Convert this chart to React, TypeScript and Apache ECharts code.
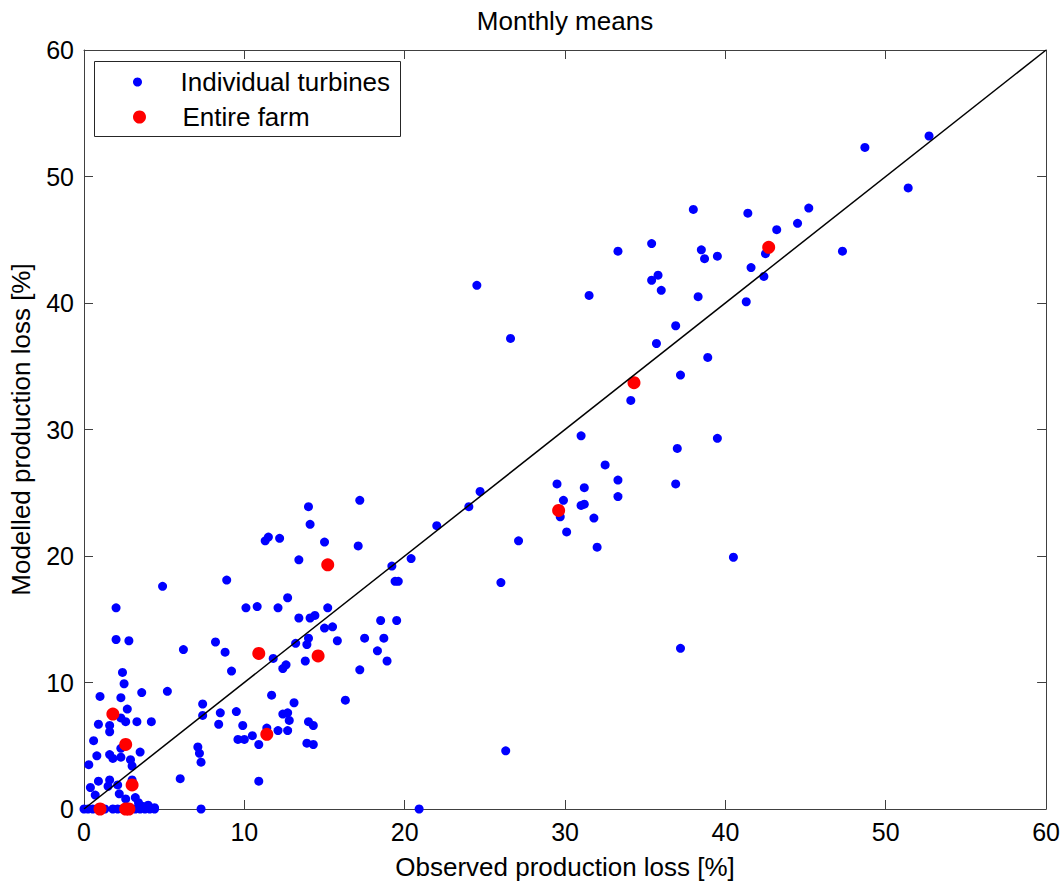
import React, { useEffect, useRef } from "react";
import * as echarts from "echarts";

const titleText = "Monthly means";
const xName = "Observed production loss [%]";
const yName = "Modelled production loss [%]";
const turbineName = "Individual turbines";
const farmName = "Entire farm";
const axisMin = 0;
const axisMax = 60;
const axisStep = 10;

// Individual turbines: [observed, modelled]
const turbines: number[][] = [
  [52.7, 53.2], [48.7, 52.3], [51.4, 49.1], [38.0, 47.4], [41.4, 47.1], [45.2, 47.5],
  [44.5, 46.3], [43.2, 45.8], [42.5, 43.9], [47.3, 44.1], [35.4, 44.7], [38.5, 44.2],
  [38.7, 43.5], [39.5, 43.7], [41.6, 42.8], [42.4, 42.1], [35.8, 42.2], [35.4, 41.8],
  [36.0, 41.0], [38.3, 40.5], [41.3, 40.1], [36.9, 38.2], [35.7, 36.8], [38.9, 35.7],
  [37.2, 34.3], [39.5, 29.3], [37.0, 28.5], [36.9, 25.7], [33.3, 44.1], [24.5, 41.4],
  [31.5, 40.6], [26.6, 37.2], [34.1, 32.3], [31.0, 29.5], [32.5, 27.2], [33.3, 26.0],
  [29.5, 25.7], [31.2, 25.4], [33.3, 24.7], [29.9, 24.4], [31.0, 24.0], [31.2, 24.1],
  [29.7, 23.1], [31.8, 23.0], [30.1, 21.9], [32.0, 20.7], [24.7, 25.1], [24.0, 23.9],
  [22.0, 22.4], [27.1, 21.2], [20.4, 19.8], [26.0, 17.9], [40.5, 19.9], [37.2, 12.7],
  [26.3, 4.6], [20.9, 0.0],
  [17.2, 24.4], [14.0, 23.9], [14.1, 22.5], [11.5, 21.5], [11.3, 21.2], [12.2, 21.4],
  [15.0, 21.1], [17.1, 20.8], [13.4, 19.7], [8.9, 18.1], [19.2, 19.2], [19.4, 18.0],
  [19.6, 18.0], [12.7, 16.7], [10.1, 15.9], [10.8, 16.0], [12.1, 15.9], [15.2, 15.9],
  [13.4, 15.1], [14.1, 15.1], [14.4, 15.3], [18.5, 14.9], [19.5, 14.9], [15.0, 14.3],
  [15.5, 14.4], [17.5, 13.5], [18.7, 13.5], [14.0, 13.5], [15.8, 13.3], [13.2, 13.1],
  [13.9, 13.0], [8.2, 13.2], [6.2, 12.6], [8.8, 12.4], [18.3, 12.5], [13.8, 11.7],
  [18.9, 11.7], [11.8, 11.9], [12.4, 11.1], [12.6, 11.4], [9.2, 10.9], [17.2, 11.0],
  [11.7, 9.0], [16.3, 8.6], [13.1, 8.4], [7.4, 8.3], [8.5, 7.6], [9.5, 7.7],
  [7.4, 7.4], [12.4, 7.5], [12.7, 7.6], [12.8, 7.0], [8.4, 6.7], [9.9, 6.6],
  [14.0, 6.9], [14.3, 6.6], [11.4, 6.4], [12.1, 6.2], [12.7, 6.2], [10.5, 5.8],
  [9.6, 5.5], [10.0, 5.5], [10.9, 5.1], [13.9, 5.2], [14.3, 5.1], [7.1, 4.9],
  [7.2, 4.4], [7.3, 3.7], [10.9, 2.2], [7.3, 0.0],
  [4.9, 17.6], [2.0, 15.9], [2.0, 13.4], [2.8, 13.3], [2.4, 10.8], [2.5, 9.9],
  [1.0, 8.9], [2.3, 8.8], [3.6, 9.2], [5.2, 9.3], [2.7, 7.9], [2.3, 7.2],
  [2.6, 6.9], [0.9, 6.7], [3.3, 6.9], [4.2, 6.9], [1.6, 6.6], [1.6, 6.1],
  [0.6, 5.4], [2.3, 4.8], [3.5, 4.5], [0.8, 4.2], [1.6, 4.3], [1.8, 4.0],
  [2.3, 4.1], [2.9, 3.9], [3.0, 3.4], [0.3, 3.5], [6.0, 2.4], [0.4, 1.7],
  [0.9, 2.2], [1.5, 1.8], [1.6, 2.3], [2.1, 1.9], [3.0, 2.3], [0.7, 1.1],
  [2.2, 1.2], [2.6, 0.8], [3.2, 0.9], [3.4, 0.5], [4.0, 0.3], [3.7, 0.2], [4.4, 0.1],
  [0.0, 0.0], [0.25, 0.0], [0.55, 0.0], [1.3, 0.0], [1.8, 0.0], [2.1, 0.0],
  [2.4, 0.0], [3.2, 0.0], [3.5, 0.0], [3.8, 0.0], [4.1, 0.0], [4.4, 0.0],
];

// Entire farm: [observed, modelled]
const farm: number[][] = [
  [1.0, 0.0], [2.6, 0.0], [2.8, 0.0], [3.0, 1.9], [2.6, 5.1], [1.8, 7.5],
  [11.4, 5.9], [10.9, 12.3], [14.6, 12.1], [15.2, 19.3], [29.6, 23.6],
  [34.3, 33.7], [42.7, 44.4],
];

// 1:1 reference line
const diagonal: number[][] = [[0, 0], [60, 60]];

const FONT = "'Liberation Sans', Arial, Helvetica, sans-serif";
const AXIS_COLOR = "#404040";

export default function App() {
  const ref = useRef<HTMLDivElement>(null);

  useEffect(() => {
    if (!ref.current) return;
    const chart = echarts.init(ref.current, undefined, { renderer: "svg" });

    const baseAxis = {
      type: "value" as const,
      min: axisMin,
      max: axisMax,
      interval: axisStep,
      splitLine: { show: false },
      axisLine: { show: true, onZero: false, lineStyle: { color: AXIS_COLOR, width: 1 } },
      axisTick: { show: true, inside: true, length: 9, lineStyle: { color: AXIS_COLOR } },
    };

    chart.setOption({
      animation: false,
      backgroundColor: "#ffffff",
      textStyle: { fontFamily: FONT },
      title: {
        text: titleText,
        left: 560,
        top: 3,
        textAlign: "center",
        textStyle: { fontFamily: FONT, fontSize: 26, fontWeight: "normal", color: "#000" },
      },
      grid: { left: 84, right: 15, top: 50, bottom: 74, containLabel: false },
      xAxis: [
        {
          ...baseAxis,
          position: "bottom",
          name: xName,
          nameLocation: "middle",
          nameGap: 45,
          nameTextStyle: { fontFamily: FONT, fontSize: 26, color: "#000" },
          axisLabel: { show: true, margin: 10, fontFamily: FONT, fontSize: 25, color: "#000" },
        },
        {
          ...baseAxis,
          position: "top",
          axisLabel: { show: false },
        },
      ],
      yAxis: [
        {
          ...baseAxis,
          position: "left",
          name: yName,
          nameLocation: "middle",
          nameGap: 50,
          nameRotate: 90,
          nameTextStyle: { fontFamily: FONT, fontSize: 26, color: "#000" },
          axisLabel: { show: true, margin: 10, fontFamily: FONT, fontSize: 25, color: "#000" },
        },
        {
          ...baseAxis,
          position: "right",
          axisLabel: { show: false },
        },
      ],
      legend: [
        {
          data: [{ name: turbineName, icon: "circle" }],
          left: 133,
          top: 69,
          padding: 0,
          itemWidth: 76,
          itemHeight: 9,
          selectedMode: false,
          textStyle: { fontFamily: FONT, fontSize: 26, color: "#000" },
          z: 10,
        },
        {
          data: [{ name: farmName, icon: "circle" }],
          left: 133,
          top: 104,
          padding: 0,
          itemWidth: 76,
          itemHeight: 13,
          selectedMode: false,
          textStyle: { fontFamily: FONT, fontSize: 26, color: "#000" },
          z: 10,
        },
      ],
      graphic: [
        {
          type: "rect",
          z: 5,
          shape: { x: 94.5, y: 61.5, width: 306, height: 75 },
          style: { fill: "#ffffff", stroke: "#262626", lineWidth: 1 },
        },
      ],
      series: [
        {
          name: turbineName,
          type: "scatter",
          xAxisIndex: 0,
          yAxisIndex: 0,
          data: turbines,
          symbol: "circle",
          symbolSize: 9,
          itemStyle: { color: "#0000ff", opacity: 1 },
          emphasis: { disabled: true },
          silent: true,
        },
        {
          name: "diagonal",
          type: "line",
          xAxisIndex: 0,
          yAxisIndex: 0,
          data: diagonal,
          showSymbol: false,
          symbol: "none",
          lineStyle: { color: "#000000", width: 1.5 },
          silent: true,
        },
        {
          name: farmName,
          type: "scatter",
          xAxisIndex: 0,
          yAxisIndex: 0,
          data: farm,
          symbol: "circle",
          symbolSize: 13,
          itemStyle: { color: "#ff0000", opacity: 1 },
          emphasis: { disabled: true },
          silent: true,
        },
      ],
    });

    return () => {
      chart.dispose();
    };
  }, []);

  return (
    <div
      ref={ref}
      style={{ position: "absolute", left: 0, top: 0, width: 1063, height: 885 }}
    />
  );
}
